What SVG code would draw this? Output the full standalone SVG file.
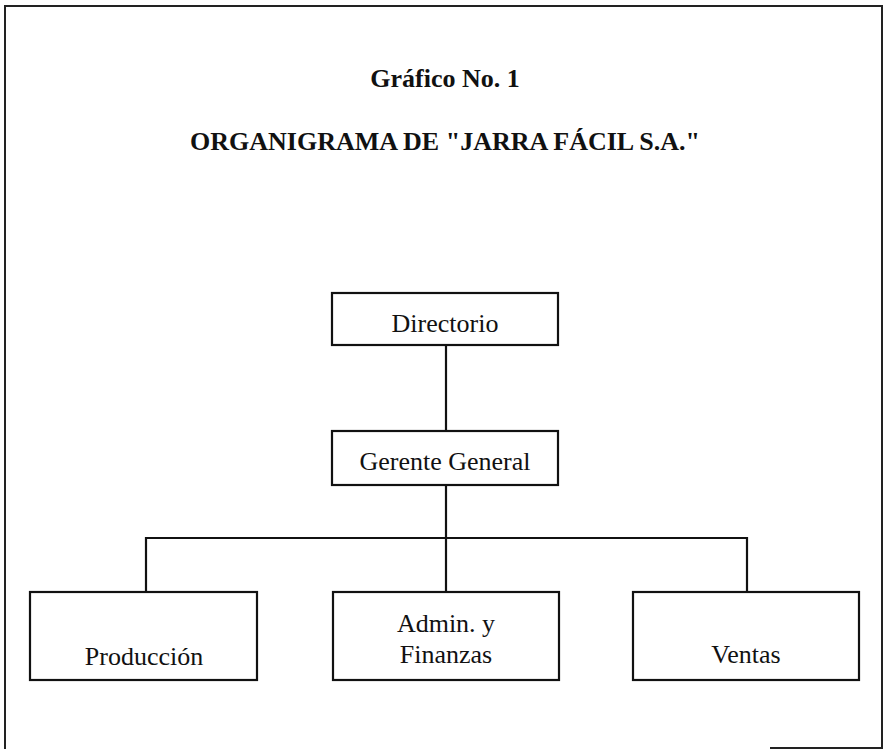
<svg xmlns="http://www.w3.org/2000/svg" width="885" height="751" viewBox="0 0 885 751">
  <style>
    .box { fill: #ffffff; stroke: #111111; stroke-width: 2.2; }
    .lbl { font-family: "Liberation Serif", "Times New Roman", serif; font-size: 26px; fill: #111111; text-anchor: middle; }
    .ttl { font-family: "Liberation Serif", "Times New Roman", serif; font-size: 26px; font-weight: bold; fill: #111111; text-anchor: middle; }
    .ln { fill: none; stroke: #111111; stroke-width: 2.2; }
    .frame { fill: none; stroke: #222222; stroke-width: 2; }
  </style>
  <rect width="885" height="751" fill="#ffffff"/>
  <g id="frame">
    <path class="frame" d="M5,749 V6 H882 V748 H770"/>
  </g>
  <g id="titles">
    <text class="ttl" x="445" y="87">Gráfico No. 1</text>
    <text class="ttl" x="445" y="150">ORGANIGRAMA DE "JARRA FÁCIL S.A."</text>
  </g>
  <g id="connectors">
    <line class="ln" x1="446" y1="345" x2="446" y2="431"/>
    <line class="ln" x1="446" y1="485" x2="446" y2="592"/>
    <line class="ln" x1="145" y1="538" x2="748" y2="538"/>
    <line class="ln" x1="146" y1="537" x2="146" y2="592"/>
    <line class="ln" x1="747" y1="537" x2="747" y2="592"/>
  </g>
  <g id="directorio">
    <rect class="box" x="332" y="293" width="226" height="52"/>
    <text class="lbl" x="445" y="332">Directorio</text>
  </g>
  <g id="gerente">
    <rect class="box" x="332" y="431" width="226" height="54"/>
    <text class="lbl" x="445" y="470">Gerente General</text>
  </g>
  <g id="produccion">
    <rect class="box" x="30" y="592" width="227" height="88"/>
    <text class="lbl" x="144" y="665">Producción</text>
  </g>
  <g id="admin">
    <rect class="box" x="333" y="592" width="226" height="88"/>
    <text class="lbl" x="446" y="632">Admin. y</text>
    <text class="lbl" x="446" y="663">Finanzas</text>
  </g>
  <g id="ventas">
    <rect class="box" x="633" y="592" width="226" height="88"/>
    <text class="lbl" x="746" y="663">Ventas</text>
  </g>
</svg>
